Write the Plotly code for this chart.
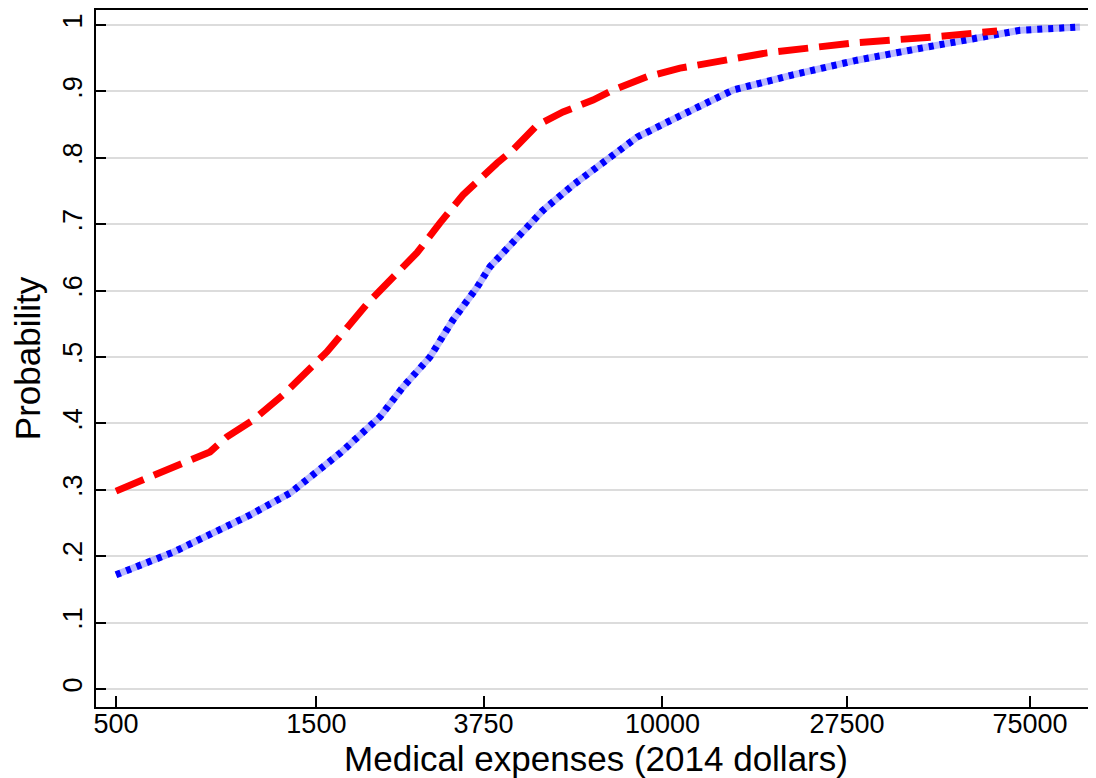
import plotly.graph_objects as go
import numpy as np

# Data
red_x = [500, 580, 672, 763, 837, 919, 1060, 1249, 1425, 1590, 1980, 2126, 2604, 2954,
         3351, 4038, 4408, 5027, 5798, 6835, 7627, 9190, 11011, 17740, 28450, 44100, 62650]
red_y = [0.298, 0.315, 0.33, 0.345, 0.357, 0.38, 0.405, 0.443, 0.48, 0.508, 0.58, 0.60,
         0.657, 0.702, 0.744, 0.792, 0.812, 0.849, 0.869, 0.887, 0.902, 0.922, 0.935,
         0.958, 0.973, 0.982, 0.991]

blue_x = [500, 684, 1042, 1298, 1707, 2126, 2413, 2796, 3173, 3619, 3886, 4656, 5195,
          6125, 7380, 8699, 10830, 14720, 20460, 29050, 40360, 56100, 71000, 98650]
blue_y = [0.172, 0.206, 0.262, 0.295, 0.355, 0.41, 0.455, 0.50, 0.556, 0.605, 0.636,
          0.691, 0.721, 0.759, 0.797, 0.831, 0.861, 0.902, 0.925, 0.947, 0.964, 0.98,
          0.992, 0.997]

x_ticks = [500, 1500, 3750, 10000, 27500, 75000]
x_tick_labels = ["500", "1500", "3750", "10000", "27500", "75000"]
y_ticks = [0, 0.1, 0.2, 0.3, 0.4, 0.5, 0.6, 0.7, 0.8, 0.9, 1.0]
y_tick_labels = ["0", ".1", ".2", ".3", ".4", ".5", ".6", ".7", ".8", ".9", "1"]

FONT = "Liberation Sans, Arial, sans-serif"

fig = go.Figure()
# blue: light underlay + dense dashes
fig.add_trace(go.Scatter(x=blue_x, y=blue_y, mode="lines",
                         line=dict(color="rgba(60,60,255,0.35)", width=7),
                         hoverinfo="skip", showlegend=False))
fig.add_trace(go.Scatter(x=blue_x, y=blue_y, mode="lines",
                         line=dict(color="#0000ff", width=7, dash="5px,6px"),
                         showlegend=False))
fig.add_trace(go.Scatter(x=red_x, y=red_y, mode="lines",
                         line=dict(color="#ff0000", width=7, dash="30px,11px"),
                         showlegend=False))

lo = np.log10(500) - 20 / 420
hi = np.log10(500) + 980 / 420

fig.update_layout(
    width=1088, height=770,
    margin=dict(l=88, r=0, t=2, b=71),
    paper_bgcolor="white", plot_bgcolor="white",
    font=dict(family=FONT, color="black"),
    xaxis=dict(
        type="log", range=[lo, hi], automargin=False,
        tickvals=x_ticks, ticktext=x_tick_labels,
        ticks="inside", ticklen=11, tickwidth=2, tickcolor="black",
        showline=True, linecolor="black", linewidth=2, mirror=True,
        showgrid=False, zeroline=False, ticklabelstandoff=-8,
        tickfont=dict(size=27, family=FONT),
        title=dict(text="Medical expenses (2014 dollars)", font=dict(size=35, family=FONT), standoff=0),
    ),
    yaxis=dict(
        range=[-18 / 664, 1 + 15 / 664], automargin=False,
        tickvals=y_ticks, ticktext=y_tick_labels,
        ticks="inside", ticklen=10, tickwidth=2, tickcolor="black",
        showline=True, linecolor="black", linewidth=2,
        showgrid=True, gridcolor="#dcdcdc", gridwidth=2, zeroline=False,
        tickangle=-90, ticklabelstandoff=1,
        tickfont=dict(size=27, family=FONT),
        title=dict(text="Probability", font=dict(size=35, family=FONT), standoff=8),
    ),
)

fig.write_html("out.html")
